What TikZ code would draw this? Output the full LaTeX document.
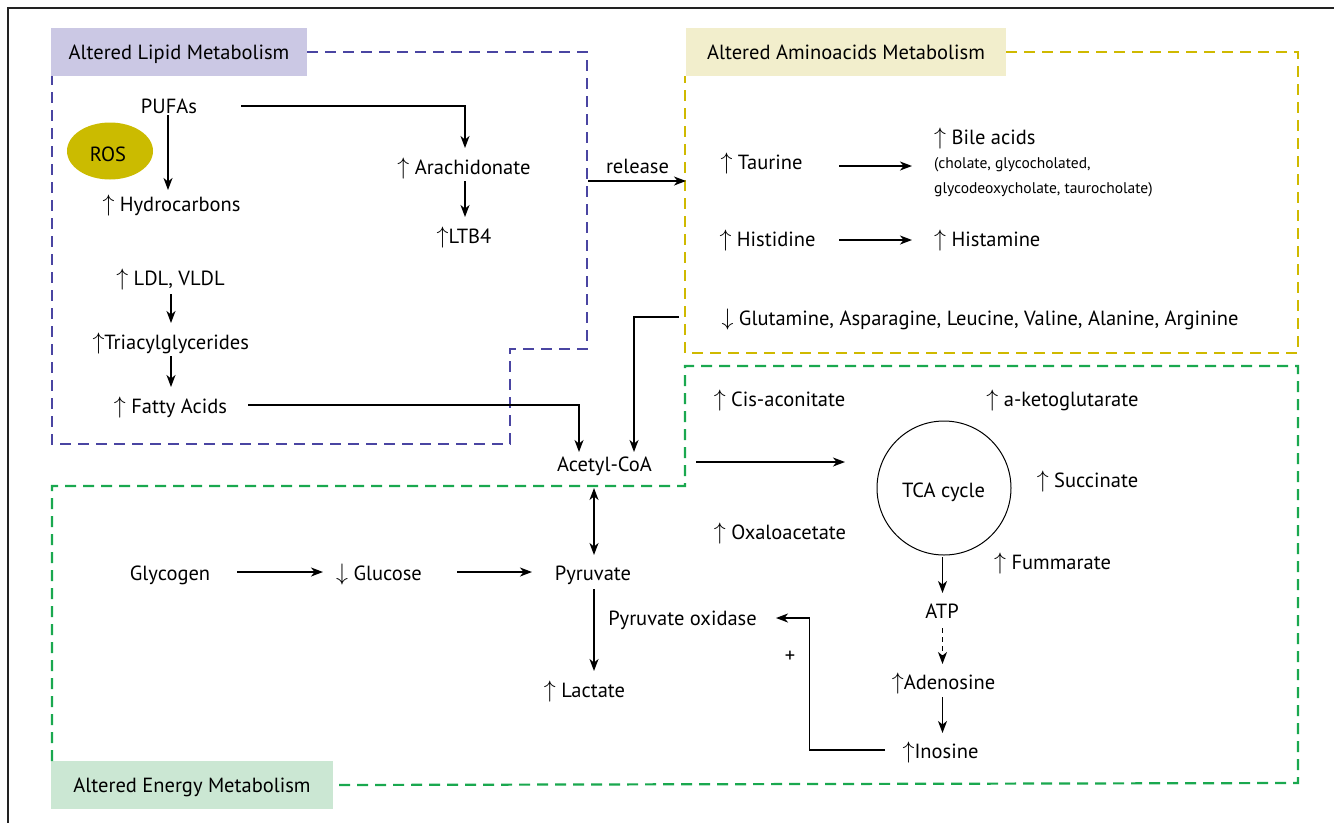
\documentclass[tikz,border=0pt]{standalone}
\usepackage{fontspec}
\setmainfont{PT Sans}
\usetikzlibrary{arrows.meta,calc,shapes.geometric}
\definecolor{lipidfill}{HTML}{CBC8E4}
\definecolor{aminofill}{HTML}{F2EECC}
\definecolor{energyfill}{HTML}{CBE7D3}
\definecolor{lipiddash}{HTML}{4A45A2}
\definecolor{aminodash}{HTML}{CFB900}
\definecolor{energydash}{HTML}{1AA84F}
\definecolor{rosfill}{HTML}{CBBB00}
\definecolor{framec}{HTML}{222222}
\newcommand{\upa}{\scalebox{1.15}{$\uparrow$}}
\newcommand{\dna}{\scalebox{1.15}{$\downarrow$}}
\begin{document}
\begin{tikzpicture}[x=1pt,y=-1pt,
  font=\fontsize{20.5}{24}\selectfont,
  every node/.style={inner sep=0pt},
  t/.style={anchor=base},
  tw/.style={anchor=base west},
  lab/.style={minimum height=48pt, text height=14pt, text depth=0pt},
  arr/.style={-{Stealth[length=12pt,width=9pt,inset=3.5pt]}, line width=1.3pt},
  darr/.style={{Stealth[length=12pt,width=9pt,inset=3.5pt]}-{Stealth[length=12pt,width=9pt,inset=3.5pt]}, line width=1.3pt},
  boxline/.style={line width=2.2pt, dash pattern=on 11pt off 7pt}
]
\useasboundingbox (0,0) rectangle (1334,823);
% outer frame (top and left edges)
\draw[framec, line width=1.5pt] (1334,8) -- (8,8) -- (8,823);

% group labels
\node[lab, fill=lipidfill, minimum width=256pt] (liplab) at (179,52) {Altered Lipid Metabolism};
\node[lab, fill=aminofill, minimum width=320pt] (amlab) at (846,52) {Altered Aminoacids Metabolism};
\node[lab, fill=energyfill, minimum width=282pt] (enlab) at (192,785) {Altered Energy Metabolism};

% dashed group outlines
\draw[boxline, lipiddash] (liplab.east) -- (587,52) -- (587,349) -- (510,349) -- (510,444) -- (52,444) -- (52,76);
\draw[boxline, aminodash] (amlab.east) -- (1298,52) -- (1298,353) -- (685,353) -- (685,76);
\draw[boxline, energydash] (52,761) -- (52,486) -- (685,486) -- (685,366) -- (1298,366) -- (1298,783) -- (enlab.east);

% lipid metabolism
\node[t] (pufa) at (169,113) {PUFAs};
\node[ellipse, fill=rosfill, minimum width=86pt, minimum height=57pt] (ros) at (110,151) {};
\node[t] (roslbl) at (108,161) {ROS};
\node[t] (hydro) at (171.5,211) {\upa{} Hydrocarbons};
\node[t] (arach) at (464,174) {\upa{} Arachidonate};
\node[t] (ltb4) at (464,243) {\upa{}LTB4};
\node[t] (ldl) at (170.5,285) {\upa{} LDL, VLDL};
\node[t] (tri) at (170.7,349) {\upa{}Triacylglycerides};
\node[t] (fatty) at (170.5,413) {\upa{} Fatty Acids};

% aminoacids metabolism
\node[t] (taurine) at (761.5,169) {\upa{} Taurine};
\node[tw] (bile) at (934,144) {\upa{} Bile acids};
\node[tw, font=\fontsize{15.5}{19}\selectfont] (biledet1) at (934,168) {(cholate, glycocholated,};
\node[tw, font=\fontsize{15.5}{19}\selectfont] (biledet2) at (934,193) {glycodeoxycholate, taurocholate)};
\node[t] (histidine) at (767.5,246) {\upa{} Histidine};
\node[tw] (histamine) at (934,246) {\upa{} Histamine};
\node[t] (glut) at (980,325) {\dna{} Glutamine, Asparagine, Leucine, Valine, Alanine, Arginine};

% energy metabolism
\node[t] (acetyl) at (604.5,471) {Acetyl-CoA};
\node[t] (cis) at (779.5,406) {\upa{} Cis-aconitate};
\node[t] (aketo) at (1062.5,406) {\upa{} a-ketoglutarate};
\node[circle, draw, line width=1pt, minimum size=134pt] (tca) at (944,488) {};
\node[t] (tcalbl) at (943.5,497) {TCA cycle};
\node[t] (succ) at (1087.5,487) {\upa{} Succinate};
\node[t] (oxalo) at (780,539) {\upa{} Oxaloacetate};
\node[t] (fumm) at (1052.5,569) {\upa{} Fummarate};
\node[t] (atp) at (942,618) {ATP};
\node[t] (adeno) at (943.5,689) {\upa{}Adenosine};
\node[t] (inosine) at (940.5,758) {\upa{}Inosine};
\node[t] (pyrox) at (682.5,625) {Pyruvate oxidase};
\node (plus) at (790,657) {+};
\node[t] (pyruvate) at (593,580) {Pyruvate};
\node[t] (glycogen) at (170,580) {Glycogen};
\node[t] (glucose) at (379,580) {\dna{} Glucose};
\node[t] (lactate) at (584.5,697) {\upa{} Lactate};

% connectors: lipid
\draw[arr] ($(pufa.base)+(-1,2)$) -- ($(hydro.base)+(-3.5,-21)$);
\draw[arr] ($(pufa.base)+(72,-7)$) -| ($(arach.base)+(1,-26)$);
\draw[arr] ($(arach.base)+(1,7)$) -- ($(ltb4.base)+(1,-26)$);
\draw[arr] ($(ldl.base)+(0.5,9)$) -- ($(tri.base)+(0.3,-26)$);
\draw[arr] ($(tri.base)+(0.3,7)$) -- ($(fatty.base)+(0.5,-26)$);
\draw[arr] ($(fatty.base)+(77.5,-8)$) -| ($(acetyl.base)+(-25.5,-19)$);
\draw[arr] ($(glut.base)+(-301,-8)$) -| ($(acetyl.base)+(29.5,-19)$);
\coordinate (relS) at (588,181);
\coordinate (relE) at (686,181);
\draw[arr] (relS) -- (relE);
\node[t] (release) at (637.5,173) {release};

% connectors: aminoacids
\draw[arr] ($(taurine.base)+(77.5,-3)$) -- ($(bile.base west)+(-22,22)$);
\draw[arr] ($(histidine.base)+(71.5,-6)$) -- ($(histamine.base west)+(-22,-6)$);

% connectors: energy
\draw[arr] ($(acetyl.base)+(91.5,-9)$) -- ($(tca.center)+(-99,-26)$);
\draw[darr] ($(acetyl.base)+(-10.5,17)$) -- ($(pyruvate.base)+(1,-25)$);
\draw[arr] ($(glycogen.base)+(67,-8)$) -- ($(glucose.base)+(-56,-8)$);
\draw[arr] ($(glucose.base)+(78,-8)$) -- ($(pyruvate.base)+(-61,-8)$);
\draw[arr] ($(pyruvate.base)+(1,9)$) -- ($(lactate.base)+(9.5,-26)$);
\draw[arr] ($(tca.center)+(-1.5,69)$) -- ($(atp.base)+(0.5,-25)$);
\draw[arr, dash pattern=on 5pt off 4pt] ($(atp.base)+(0.5,10)$) -- ($(adeno.base)+(-1,-25)$);
\draw[arr] ($(adeno.base)+(-1,8)$) -- ($(inosine.base)+(2,-25)$);
\draw[arr] ($(inosine.base)+(-55.5,-8)$) -| ($(pyrox.base)+(127,-7)$) -- ($(pyrox.base)+(93.5,-7)$);
\end{tikzpicture}
\end{document}
